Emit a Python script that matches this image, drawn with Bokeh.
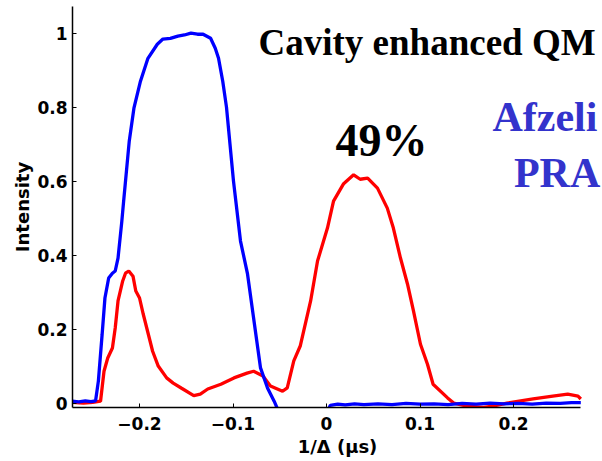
from bokeh.plotting import figure
from bokeh.models import Range1d, FixedTicker, Label
from bokeh.embed import file_html
from bokeh.resources import INLINE

# Blue trace: reference pulse transmitted with no memory
blue_x = [-0.272, -0.265, -0.258, -0.252, -0.247, -0.244, -0.240, -0.237, -0.233,
          -0.229, -0.226, -0.223, -0.219, -0.217, -0.211, -0.206, -0.199, -0.191,
          -0.181, -0.175, -0.167, -0.159, -0.152, -0.145, -0.138, -0.132, -0.124,
          -0.119, -0.1155, -0.111, -0.107, -0.0995, -0.092, -0.0845, -0.078,
          -0.0706, -0.063, -0.056, -0.050, 0.0, 0.004, 0.012, 0.020, 0.030, 0.040,
          0.055, 0.070, 0.085, 0.100, 0.115, 0.130, 0.145, 0.160, 0.175, 0.190,
          0.205, 0.220, 0.235, 0.250, 0.262, 0.272]
blue_y = [0.005, 0.003, 0.006, 0.004, 0.006, 0.06, 0.186, 0.284, 0.338,
          0.351, 0.357, 0.392, 0.49, 0.546, 0.708, 0.797, 0.87, 0.932,
          0.97, 0.984, 0.986, 0.992, 0.995, 1.0, 0.997, 0.997, 0.986,
          0.959, 0.932, 0.87, 0.80, 0.60, 0.438, 0.349, 0.23,
          0.095, 0.04, 0.005, -0.03, -0.03, -0.006, -0.003, -0.005, -0.002, -0.004,
          -0.002, -0.004, -0.001, -0.003, -0.002, -0.004, -0.001, -0.003, 0.0, -0.002,
          -0.001, -0.003, 0.0, -0.001, 0.001, 0.001]

# Red trace: echo retrieved from the cavity-enhanced memory
red_x = [-0.272, -0.26, -0.25, -0.2417, -0.238, -0.234, -0.229, -0.226, -0.223,
         -0.218, -0.215, -0.2115, -0.207, -0.204, -0.2, -0.196, -0.191, -0.186,
         -0.18, -0.171, -0.164, -0.155, -0.142, -0.135, -0.127, -0.113, -0.099,
         -0.085, -0.078, -0.068, -0.06, -0.047, -0.042, -0.035, -0.028, -0.017,
         -0.0096, 0.001, 0.0075, 0.018, 0.029, 0.036, 0.044, 0.0545, 0.065,
         0.0715, 0.0791, 0.0866, 0.093, 0.1005, 0.108, 0.114, 0.1295, 0.136,
         0.15, 0.168, 0.178, 0.193, 0.221, 0.242, 0.258, 0.269, 0.272]
red_y = [0.002, 0.0, 0.002, 0.005, 0.086, 0.122, 0.149, 0.203, 0.276,
         0.33, 0.351, 0.357, 0.343, 0.303, 0.284, 0.24, 0.19, 0.14,
         0.1, 0.068, 0.054, 0.04, 0.02, 0.024, 0.038, 0.051, 0.068,
         0.081, 0.086, 0.073, 0.046, 0.032, 0.041, 0.114, 0.155, 0.276,
         0.384, 0.473, 0.546, 0.592, 0.617, 0.605, 0.608, 0.581, 0.527,
         0.473, 0.392, 0.322, 0.249, 0.159, 0.105, 0.051, 0.014, 0.0,
         -0.008, -0.012, -0.008, 0.0, 0.011, 0.019, 0.024, 0.019, 0.011]

x_ticks = [-0.2, -0.1, 0.0, 0.1, 0.2]
y_ticks = [0.0, 0.2, 0.4, 0.6, 0.8, 1.0]
y_tick_labels = ["0", "0.2", "0.4", "0.6", "0.8", "1"]

efficiency_text = "49%"
title_text = "Cavity enhanced QM"
ref_lines = ["Afzeli", "PRA"]

# data extent drawn by the axes; the frame runs on to the right page edge
x_lo, x_hi = -0.2717, 0.2717

p = figure(width=602, height=461, output_backend="svg", toolbar_location=None,
           x_range=Range1d(x_lo, 0.2952), y_range=Range1d(-0.012, 1.072),
           min_border_left=72, min_border_right=0, min_border_top=6,
           min_border_bottom=54)
p.outline_line_color = None
p.xgrid.visible = False
p.ygrid.visible = False
p.background_fill_color = "white"
p.border_fill_color = "white"

p.line(red_x, red_y, line_color="#ff0000", line_width=3.3)
p.line(blue_x, blue_y, line_color="#0000ff", line_width=3.3)

tick_font = "DejaVu Sans"
for ax in (p.xaxis[0], p.yaxis[0]):
    ax.axis_line_width = 1.5
    ax.axis_line_color = "black"
    ax.major_tick_in = 4
    ax.major_tick_out = 0
    ax.minor_tick_line_color = None
    ax.major_label_text_font = tick_font
    ax.major_label_text_font_style = "bold"
    ax.major_label_text_font_size = "17px"
    ax.major_label_text_color = "black"
    ax.axis_label_text_font = tick_font
    ax.axis_label_text_font_style = "bold"
    ax.axis_label_text_color = "black"

p.xaxis.bounds = (x_lo, x_hi)
p.xaxis.ticker = FixedTicker(ticks=x_ticks)
p.xaxis.major_label_overrides = {0: "0"}
p.xaxis.major_label_standoff = 9
p.xaxis.axis_label = "1/Δ (μs)"
p.xaxis.axis_label_text_font_size = "18px"
p.xaxis.axis_label_standoff = 3

p.yaxis.ticker = FixedTicker(ticks=y_ticks)
p.yaxis.major_label_overrides = {t: s for t, s in zip(y_ticks, y_tick_labels)}
p.yaxis.major_label_standoff = 5
p.yaxis.axis_label = "Intensity"
p.yaxis.axis_label_text_font_size = "18px"
p.yaxis.axis_label_standoff = 1

serif = "Liberation Serif"
p.add_layout(Label(x=-0.0727, y=0.974, text=title_text, text_font=serif,
                   text_font_style="bold", text_font_size="37px",
                   text_color="black", text_baseline="alphabetic"))
p.add_layout(Label(x=0.0096, y=0.7095, text=efficiency_text, text_font=serif,
                   text_font_style="bold", text_font_size="46px",
                   text_color="black", text_baseline="alphabetic"))
p.add_layout(Label(x=0.1775, y=0.772, text=ref_lines[0], text_font=serif,
                   text_font_style="bold", text_font_size="42px",
                   text_color="#3333cc", text_baseline="alphabetic"))
p.add_layout(Label(x=0.2005, y=0.621, text=ref_lines[1], text_font=serif,
                   text_font_style="bold", text_font_size="42px",
                   text_color="#3333cc", text_baseline="alphabetic"))

open("out.html", "w").write(file_html(p, INLINE))
